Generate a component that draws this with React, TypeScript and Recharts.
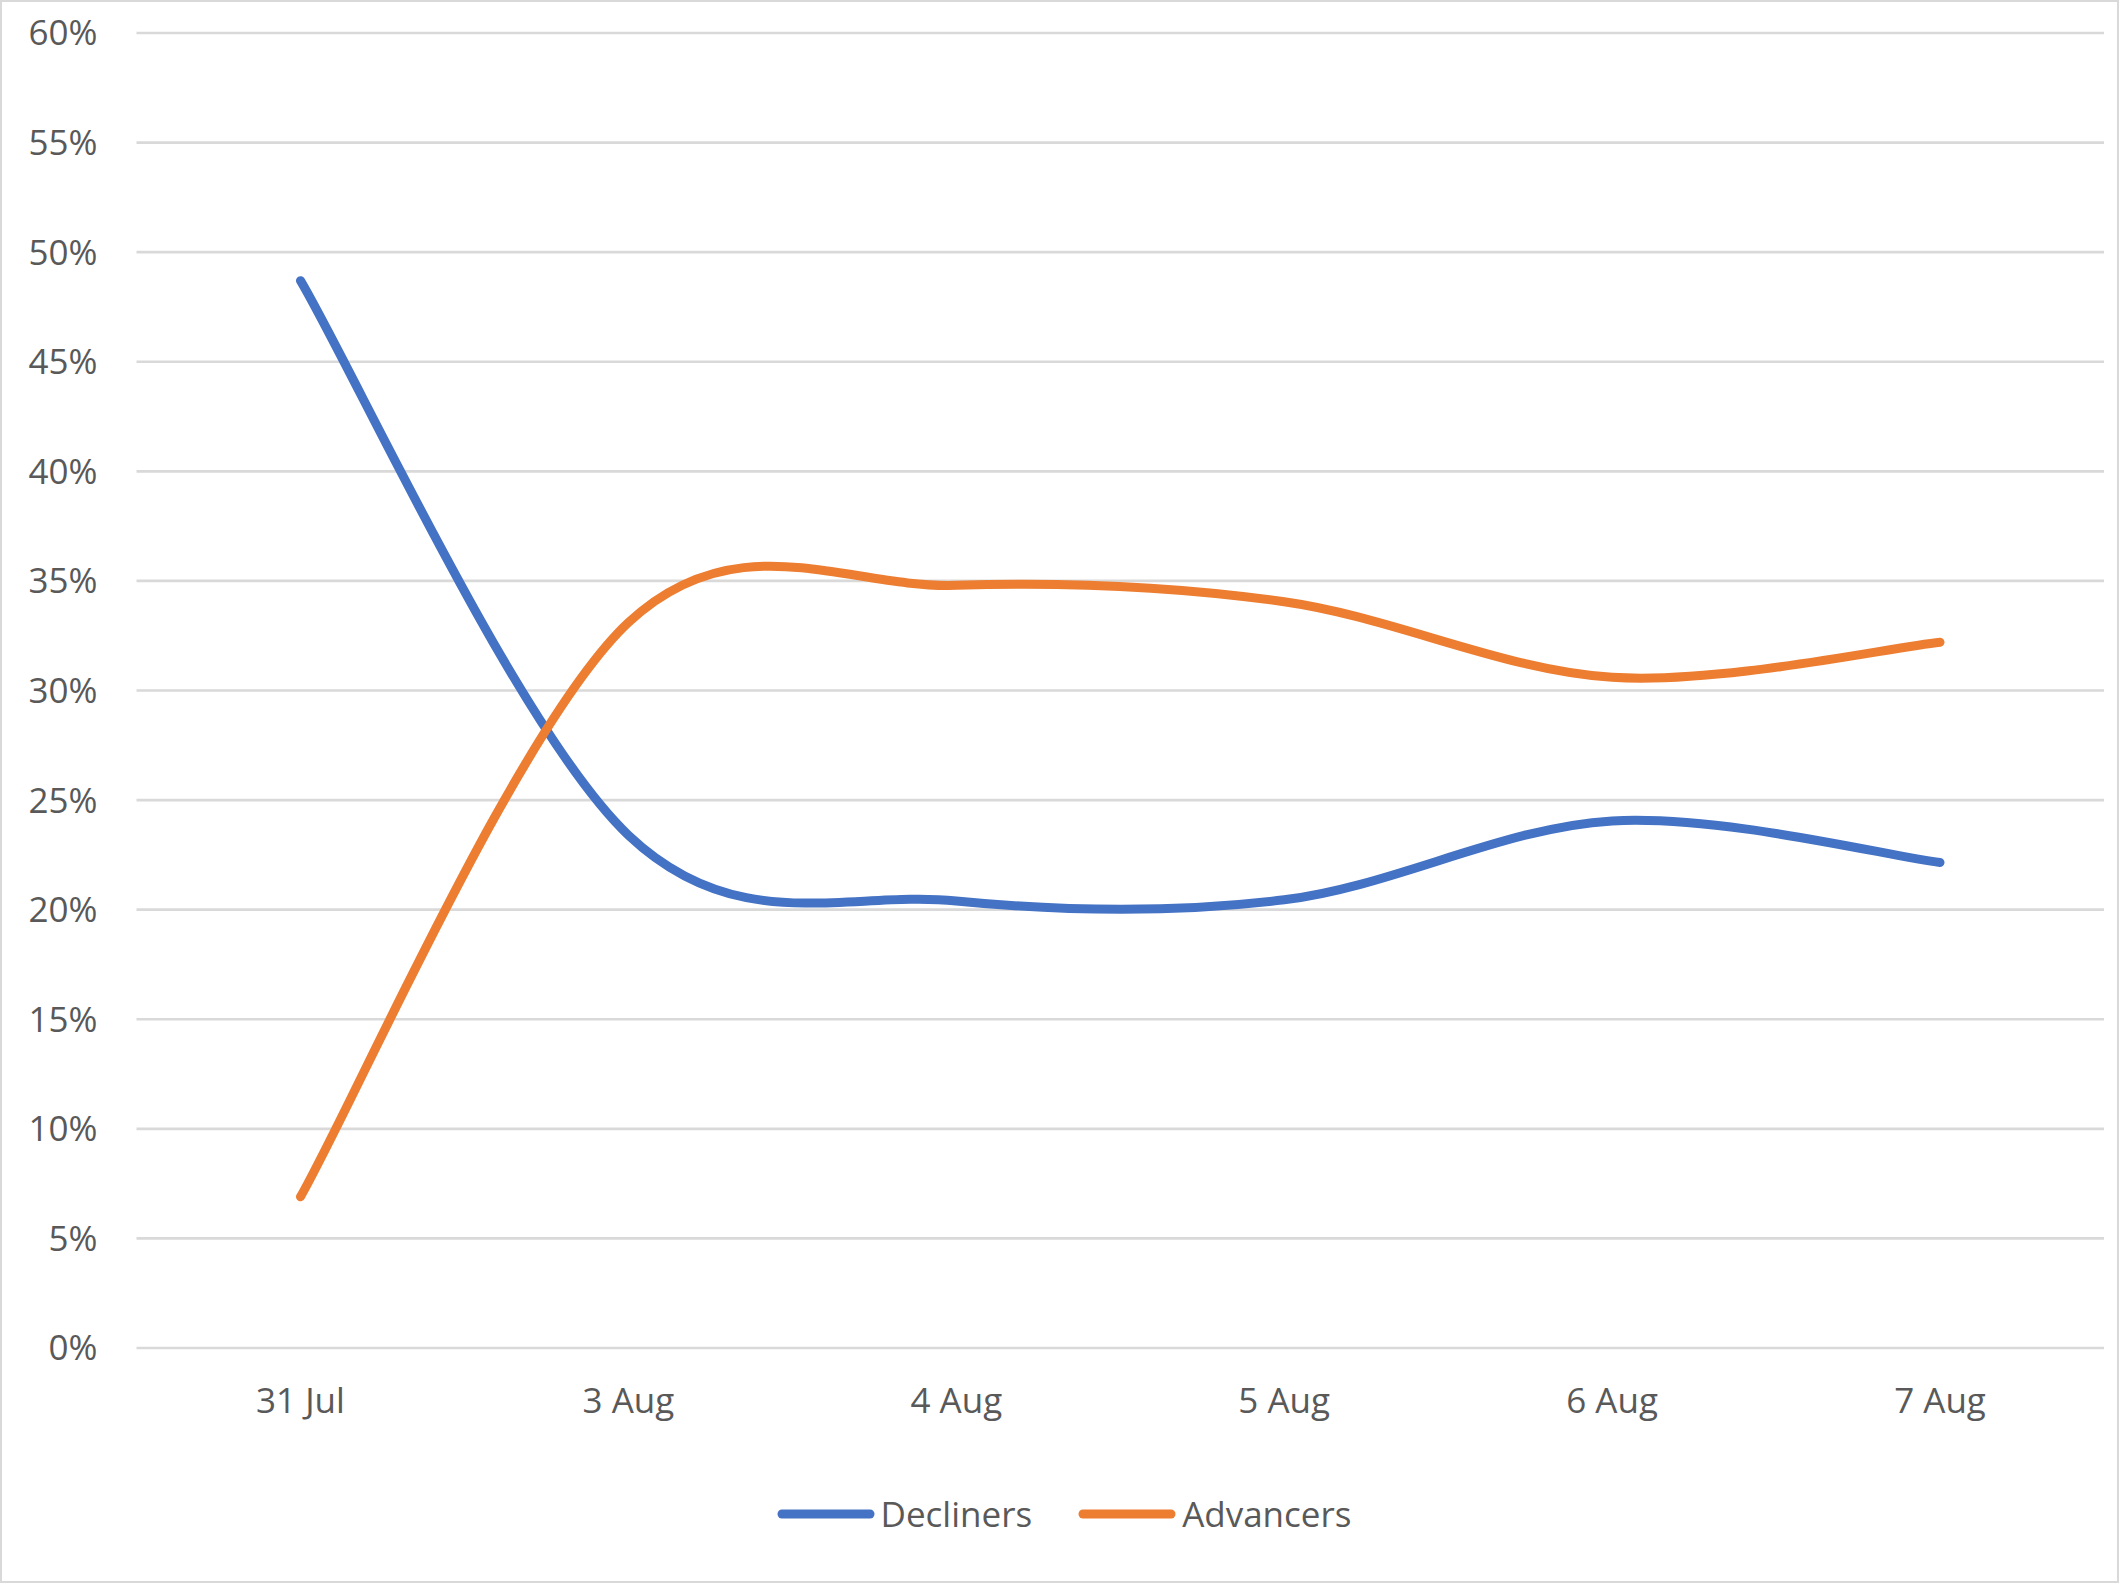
import React from 'react';
import { LineChart, Line, XAxis, YAxis, CartesianGrid, Legend } from 'recharts';

const categories = ['31 Jul', '3 Aug', '4 Aug', '5 Aug', '6 Aug', '7 Aug'];
const decliners = [48.7, 23.4, 20.4, 20.45, 24.05, 22.15];
const advancers = [6.9, 33.1, 34.8, 34.05, 30.6, 32.2];
const yTicks = [0, 5, 10, 15, 20, 25, 30, 35, 40, 45, 50, 55, 60];

const seriesInfo = [
  { key: 'Decliners', color: '#4472C4' },
  { key: 'Advancers', color: '#ED7D31' },
];

const data = categories.map((c, i) => ({
  name: c,
  Decliners: decliners[i],
  Advancers: advancers[i],
}));

// Excel-like smoothing: cardinal spline (Catmull-Rom, uniform) as cubic beziers
function excelCurve(context: any) {
  let pts: [number, number][] = [];
  return {
    areaStart() {},
    areaEnd() {},
    lineStart() {
      pts = [];
    },
    lineEnd() {
      const n = pts.length;
      if (n === 0) return;
      context.moveTo(pts[0][0], pts[0][1]);
      for (let i = 0; i < n - 1; i++) {
        const p0 = pts[Math.max(0, i - 1)];
        const p1 = pts[i];
        const p2 = pts[i + 1];
        const p3 = pts[Math.min(n - 1, i + 2)];
        context.bezierCurveTo(
          p1[0] + (p2[0] - p0[0]) / 6,
          p1[1] + (p2[1] - p0[1]) / 6,
          p2[0] - (p3[0] - p1[0]) / 6,
          p2[1] - (p3[1] - p1[1]) / 6,
          p2[0],
          p2[1]
        );
      }
    },
    point(x: number, y: number) {
      pts.push([+x, +y]);
    },
  };
}

const FONT = "'Open Sans', sans-serif";
const TEXT = '#595959';

function LegendContent() {
  return (
    <div
      style={{
        height: 100,
        display: 'flex',
        alignItems: 'center',
        justifyContent: 'center',
        marginLeft: 9,
        fontFamily: FONT,
        fontSize: 35,
        color: TEXT,
      }}
    >
      {seriesInfo.map((s, i) => (
        <div key={s.key} style={{ display: 'flex', alignItems: 'center', marginLeft: i === 0 ? 0 : 46 }}>
          <svg width={98} height={12} style={{ display: 'block' }}>
            <line x1={5} y1={6} x2={93} y2={6} stroke={s.color} strokeWidth={9} strokeLinecap="round" />
          </svg>
          <span style={{ marginLeft: 6, lineHeight: '40px' }}>{s.key}</span>
        </div>
      ))}
    </div>
  );
}

export default function App() {
  return (
    <div style={{ position: 'absolute', left: 0, top: 0, width: 2119, height: 1583, background: '#fff' }}>
      <LineChart width={2119} height={1583} data={data} margin={{ top: 33, right: 15, left: 0, bottom: 19 }}>
        <CartesianGrid vertical={false} stroke="#d9d9d9" strokeWidth={2.7} />
        <XAxis
          dataKey="name"
          height={116}
          axisLine={false}
          tickLine={false}
          tickSize={0}
          tickMargin={40}
          padding={{ left: 164, right: 164 }}
          tick={{ fill: TEXT, fontSize: 35, fontFamily: FONT }}
          interval={0}
        />
        <YAxis
          width={136.5}
          domain={[0, 60]}
          ticks={yTicks}
          interval={0}
          axisLine={false}
          tickLine={false}
          tickSize={0}
          tickMargin={39}
          tickFormatter={(v: number) => `${v}%`}
          tick={{ fill: TEXT, fontSize: 35, fontFamily: FONT }}
        />
        <Legend
          verticalAlign="bottom"
          height={100}
          content={() => <LegendContent />}
          wrapperStyle={{ left: 0, width: 2119 }}
        />
        {seriesInfo.map((s) => (
          <Line
            key={s.key}
            dataKey={s.key}
            type={excelCurve as any}
            stroke={s.color}
            strokeWidth={9}
            strokeLinecap="round"
            dot={false}
            activeDot={false}
            isAnimationActive={false}
          />
        ))}
      </LineChart>
      <div
        style={{
          position: 'absolute',
          inset: 0,
          border: '2.5px solid #d9d9d9',
          pointerEvents: 'none',
        }}
      />
    </div>
  );
}
